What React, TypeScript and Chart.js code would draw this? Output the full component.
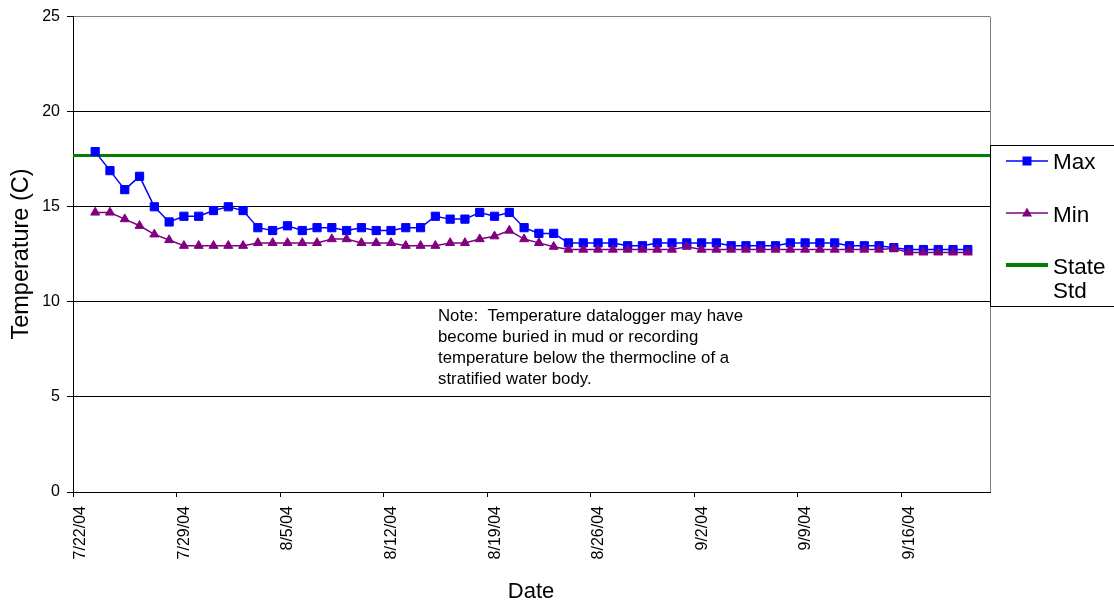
import React, { useEffect, useRef } from 'react';
import { Chart, registerables } from 'chart.js';

Chart.register(...registerables);

const FONT = '"Liberation Sans", Arial, Helvetica, sans-serif';

// ---- data ----
const axisStart = '7/22/04';
const axisEnd = '9/22/04';
const tickLabels = ['7/22/04', '7/29/04', '8/5/04', '8/12/04', '8/19/04', '8/26/04', '9/2/04', '9/9/04', '9/16/04'];

const dates = [
  '7/23/04', '7/24/04', '7/25/04', '7/26/04', '7/27/04', '7/28/04', '7/29/04', '7/30/04', '7/31/04',
  '8/1/04', '8/2/04', '8/3/04', '8/4/04', '8/5/04', '8/6/04', '8/7/04', '8/8/04', '8/9/04', '8/10/04',
  '8/11/04', '8/12/04', '8/13/04', '8/14/04', '8/15/04', '8/16/04', '8/17/04', '8/18/04', '8/19/04', '8/20/04',
  '8/21/04', '8/22/04', '8/23/04', '8/24/04', '8/25/04', '8/26/04', '8/27/04', '8/28/04', '8/29/04', '8/30/04',
  '8/31/04', '9/1/04', '9/2/04', '9/3/04', '9/4/04', '9/5/04', '9/6/04', '9/7/04', '9/8/04', '9/9/04',
  '9/10/04', '9/11/04', '9/12/04', '9/13/04', '9/14/04', '9/15/04', '9/16/04', '9/17/04', '9/18/04', '9/19/04',
  '9/20/04',
];

const maxTemp = [
  17.9, 16.9, 15.9, 16.6, 15.0, 14.2, 14.5, 14.5, 14.8, 15.0,
  14.8, 13.9, 13.75, 14.0, 13.75, 13.9, 13.9, 13.75, 13.9, 13.75,
  13.75, 13.9, 13.9, 14.5, 14.35, 14.35, 14.7, 14.5, 14.7, 13.9,
  13.6, 13.6, 13.1, 13.1, 13.1, 13.1, 12.95, 12.95, 13.1, 13.1,
  13.1, 13.1, 13.1, 12.95, 12.95, 12.95, 12.95, 13.1, 13.1, 13.1,
  13.1, 12.95, 12.95, 12.95, 12.85, 12.75, 12.75, 12.75, 12.75, 12.75,
];

const minTemp = [
  14.7, 14.7, 14.35, 14.0, 13.55, 13.25, 12.95, 12.95, 12.95, 12.95,
  12.95, 13.1, 13.1, 13.1, 13.1, 13.1, 13.3, 13.3, 13.1, 13.1,
  13.1, 12.95, 12.95, 12.95, 13.1, 13.1, 13.3, 13.45, 13.75, 13.3,
  13.1, 12.9, 12.75, 12.75, 12.75, 12.75, 12.75, 12.75, 12.75, 12.75,
  12.9, 12.75, 12.75, 12.75, 12.75, 12.75, 12.75, 12.75, 12.75, 12.75,
  12.75, 12.75, 12.75, 12.75, 12.8, 12.6, 12.6, 12.6, 12.6, 12.6,
];

const stateStd = 17.7;

const noteLines = [
  'Note:  Temperature datalogger may have',
  'become buried in mud or recording',
  'temperature below the thermocline of a',
  'stratified water body.',
];

// ---- helpers ----
function dayOffset(label: string): number {
  const [m, d, y] = label.split('/').map(Number);
  const [m0, d0, y0] = axisStart.split('/').map(Number);
  const t = Date.UTC(2000 + y, m - 1, d);
  const t0 = Date.UTC(2000 + y0, m0 - 1, d0);
  return Math.round((t - t0) / 86400000);
}

const BLUE = '#0000FF';
const PURPLE = '#800080';
const GREEN = '#008000';

const decorPlugin = {
  id: 'decor',
  afterDraw(chart: any) {
    const ctx = chart.ctx as CanvasRenderingContext2D;
    const area = chart.chartArea;
    ctx.save();
    // right border of plot area
    ctx.strokeStyle = '#808080';
    ctx.lineWidth = 1;
    ctx.beginPath();
    ctx.moveTo(Math.round(area.right) + 0.5, area.top);
    ctx.lineTo(Math.round(area.right) + 0.5, area.bottom);
    ctx.stroke();

    // axis titles
    ctx.fillStyle = '#000';
    ctx.font = `22px ${FONT}`;
    ctx.textAlign = 'center';
    ctx.textBaseline = 'alphabetic';
    ctx.fillText('Date', 531, 598);
    ctx.save();
    ctx.translate(28, 254);
    ctx.rotate(-Math.PI / 2);
    ctx.font = `23.5px ${FONT}`;
    ctx.fillText('Temperature (C)', 0, 0);
    ctx.restore();

    // note
    ctx.font = `16.8px ${FONT}`;
    ctx.textAlign = 'left';
    noteLines.forEach((line, i) => ctx.fillText(line, 438, 321 + i * 21));

    // legend
    const lx = 990.5;
    const ly = 145.5;
    ctx.fillStyle = '#fff';
    ctx.fillRect(lx, ly, 200, 161);
    ctx.strokeStyle = '#000';
    ctx.lineWidth = 1;
    ctx.strokeRect(lx, ly, 200, 161);

    const x1 = 1006;
    const x2 = 1048;
    const xm = 1027;
    // Max
    ctx.strokeStyle = BLUE;
    ctx.lineWidth = 1.5;
    ctx.beginPath();
    ctx.moveTo(x1, 161);
    ctx.lineTo(x2, 161);
    ctx.stroke();
    ctx.fillStyle = BLUE;
    ctx.fillRect(xm - 4.5, 161 - 4.5, 9, 9);
    // Min
    ctx.strokeStyle = PURPLE;
    ctx.beginPath();
    ctx.moveTo(x1, 213);
    ctx.lineTo(x2, 213);
    ctx.stroke();
    ctx.fillStyle = PURPLE;
    ctx.beginPath();
    ctx.moveTo(xm, 213 - 5.5);
    ctx.lineTo(xm + 5, 213 + 3.5);
    ctx.lineTo(xm - 5, 213 + 3.5);
    ctx.closePath();
    ctx.fill();
    // State Std
    ctx.strokeStyle = GREEN;
    ctx.lineWidth = 4;
    ctx.beginPath();
    ctx.moveTo(x1, 265);
    ctx.lineTo(x2, 265);
    ctx.stroke();

    ctx.fillStyle = '#000';
    ctx.font = `22.5px ${FONT}`;
    ctx.textAlign = 'left';
    ctx.fillText('Max', 1053, 169);
    ctx.fillText('Min', 1053, 222);
    ctx.fillText('State', 1053, 274);
    ctx.fillText('Std', 1053, 298);
    ctx.restore();
  },
};

export default function App() {
  const ref = useRef<HTMLCanvasElement>(null);

  useEffect(() => {
    document.body.style.margin = '0';
    const xs = dates.map((d) => dayOffset(d) + 0.5);
    const xMax = dayOffset(axisEnd);
    const tickMap = new Map<number, string>(tickLabels.map((l) => [dayOffset(l), l]));

    const chart = new Chart(ref.current as HTMLCanvasElement, {
      type: 'line',
      data: {
        datasets: [
          {
            label: 'Max',
            data: xs.map((x, i) => ({ x, y: maxTemp[i] })),
            borderColor: BLUE,
            backgroundColor: BLUE,
            borderWidth: 1.5,
            pointStyle: 'rect',
            pointRadius: 5.8,
            pointBorderWidth: 1,
            pointBackgroundColor: BLUE,
            pointBorderColor: BLUE,
            tension: 0,
            order: 1,
          },
          {
            label: 'Min',
            data: xs.map((x, i) => ({ x, y: minTemp[i] })),
            borderColor: PURPLE,
            backgroundColor: PURPLE,
            borderWidth: 1.5,
            pointStyle: 'triangle',
            pointRadius: 5.2,
            pointBorderWidth: 1,
            pointBackgroundColor: PURPLE,
            pointBorderColor: PURPLE,
            tension: 0,
            order: 0,
          },
          {
            label: 'State Std',
            data: [
              { x: 0, y: stateStd },
              { x: xMax, y: stateStd },
            ],
            borderColor: GREEN,
            backgroundColor: GREEN,
            borderWidth: 3,
            pointRadius: 0,
            tension: 0,
            order: 2,
          },
        ],
      },
      options: {
        animation: false,
        responsive: false,
        devicePixelRatio: 1,
        parsing: false as any,
        layout: { padding: { top: 16, right: 124, left: 0, bottom: 0 } },
        plugins: {
          legend: { display: false },
          tooltip: { enabled: false },
        },
        scales: {
          x: {
            type: 'linear',
            min: 0,
            max: xMax,
            afterFit: (scale: any) => {
              scale.height = 113;
            },
            afterBuildTicks: (scale: any) => {
              scale.ticks = tickLabels.map((l) => ({ value: dayOffset(l) }));
            },
            border: { color: '#000', width: 1 },
            grid: {
              drawOnChartArea: false,
              drawTicks: true,
              tickLength: 5,
              tickColor: '#000',
            },
            ticks: {
              autoSkip: false,
              maxRotation: 90,
              minRotation: 90,
              padding: 9,
              labelOffset: 8,
              color: '#000',
              font: { family: FONT, size: 16 },
              callback: (v: any) => tickMap.get(Number(v)) ?? '',
            },
          },
          y: {
            type: 'linear',
            min: 0,
            max: 25,
            afterFit: (scale: any) => {
              scale.width = 73;
            },
            border: { color: '#000', width: 1 },
            grid: {
              color: (c: any) => (c.tick && c.tick.value === 25 ? '#808080' : '#000'),
              tickColor: '#000',
              tickLength: 6,
              lineWidth: 1,
            },
            ticks: {
              stepSize: 5,
              padding: 7,
              color: '#000',
              font: { family: FONT, size: 16 },
            },
          },
        },
      },
      plugins: [decorPlugin],
    });
    return () => chart.destroy();
  }, []);

  return (
    <div style={{ position: 'absolute', left: 0, top: 0, width: 1114, height: 605, background: '#fff' }}>
      <canvas ref={ref} width={1114} height={605} style={{ display: 'block', width: 1114, height: 605 }} />
    </div>
  );
}
